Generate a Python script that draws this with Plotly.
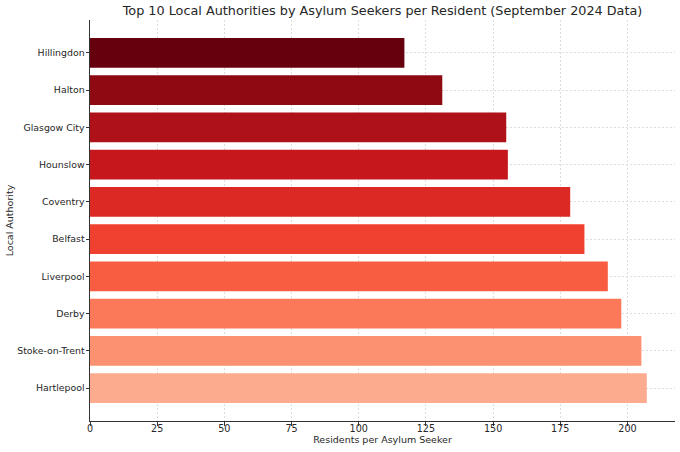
import plotly.graph_objects as go

# Data (bottom to top)
authorities = ["Hartlepool", "Stoke-on-Trent", "Derby", "Liverpool", "Belfast",
               "Coventry", "Hounslow", "Glasgow City", "Halton", "Hillingdon"]
residents_per_seeker = [207.2, 205.2, 197.7, 192.7, 184.0,
                        178.7, 155.5, 154.9, 131.1, 117.0]
bar_colors = ["#fcab8e", "#fc9171", "#fb7858", "#f85d42", "#f0402f",
              "#dd2924", "#c6171c", "#ae1117", "#8e0912", "#67000d"]
x_ticks = [0, 25, 50, 75, 100, 125, 150, 175, 200]

font_family = "DejaVu Sans"
text_color = "#262626"

fig = go.Figure(
    go.Bar(
        x=residents_per_seeker,
        y=authorities,
        orientation="h",
        width=0.8,
        marker=dict(color=bar_colors, line=dict(width=0)),
    )
)

fig.update_layout(
    width=680,
    height=452,
    margin=dict(l=90, r=5, t=20, b=31, autoexpand=False),
    paper_bgcolor="white",
    plot_bgcolor="white",
    showlegend=False,
    font=dict(family=font_family, size=9.5, color=text_color),
    title=dict(
        text="Top 10 Local Authorities by Asylum Seekers per Resident (September 2024 Data)",
        font=dict(family=font_family, size=12.8, color=text_color),
        x=0.5, xref="paper", xanchor="center",
        y=1 - 11 / 452, yref="container", yanchor="middle",
    ),
    bargap=0.2,
)

fig.update_xaxes(
    range=[0, 217.7],
    tickvals=x_ticks,
    ticktext=[str(v) for v in x_ticks],
    showline=True, linecolor="#333333", linewidth=1,
    ticks="outside", ticklen=3.5, tickwidth=0.8, tickcolor="#333333",
    showgrid=True, gridcolor="#dcdcdc", gridwidth=0.7, griddash="2px,2px",
    zeroline=False, mirror=False, layer="above traces",
    tickfont=dict(size=9.6, color=text_color),
    ticklabelstandoff=-5,
    title=dict(text="Residents per Asylum Seeker", standoff=3,
               font=dict(size=9.5, color=text_color)),
    automargin=False, fixedrange=True,
)

fig.update_yaxes(
    type="category",
    categoryorder="array", categoryarray=authorities,
    range=[-0.88, 9.88],
    showline=True, linecolor="#333333", linewidth=1,
    ticks="outside", ticklen=3.5, tickwidth=0.8, tickcolor="#333333",
    showgrid=True, gridcolor="#dcdcdc", gridwidth=0.7, griddash="2px,2px",
    zeroline=False, mirror=False, layer="above traces",
    tickfont=dict(size=9.4, color=text_color),
    ticklabelstandoff=-1,
    title=dict(text="Local Authority", standoff=1,
               font=dict(size=9.5, color=text_color)),
    automargin=False, fixedrange=True,
)

fig.write_html(
    "out.html",
    config={"displayModeBar": False},
    post_script="document.body.style.margin='0px';document.body.style.padding='0px';",
)
